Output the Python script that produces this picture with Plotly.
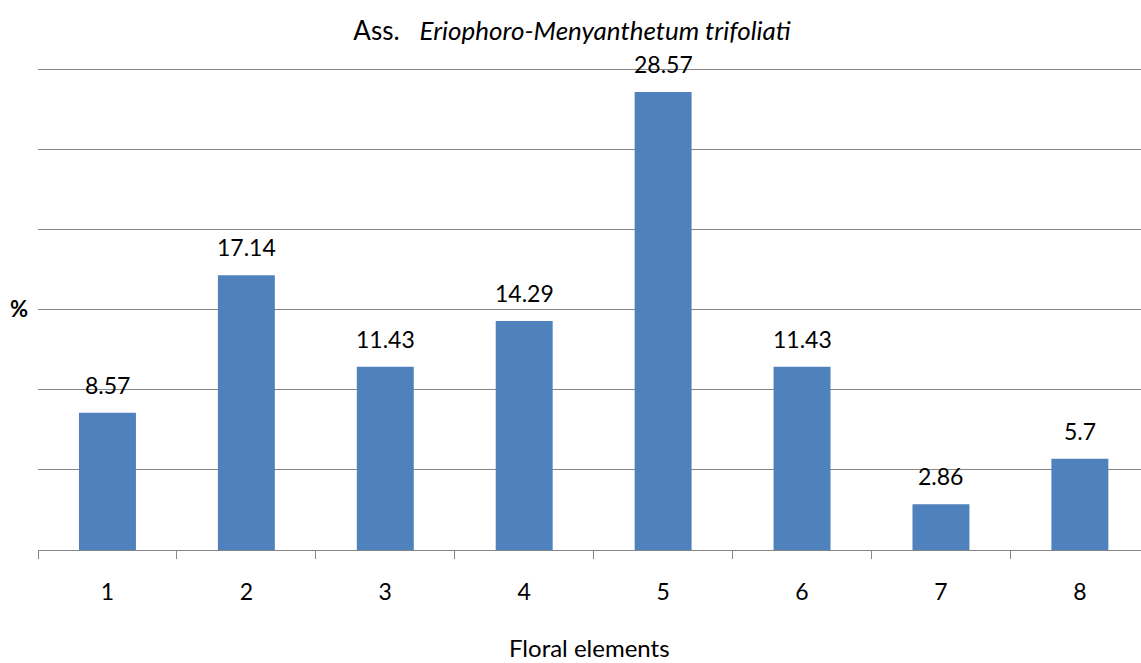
import plotly.graph_objects as go

categories = ["1", "2", "3", "4", "5", "6", "7", "8"]
values = [8.57, 17.14, 11.43, 14.29, 28.57, 11.43, 2.86, 5.7]
value_labels = ["8.57", "17.14", "11.43", "14.29", "28.57", "11.43", "2.86", "5.7"]

FONT = "Lato, 'Open Sans', sans-serif"

fig = go.Figure()
fig.add_trace(go.Bar(
    x=categories, y=values, width=0.41,
    marker=dict(color="#4F81BD", line=dict(width=0)),
    hoverinfo="x+y",
))

# data labels (category axis annotations use serial index positions)
for i, (v, t) in enumerate(zip(values, value_labels)):
    fig.add_annotation(x=i, y=v, text=t, showarrow=False, xref="x", yref="y",
                       yanchor="bottom", yshift=12,
                       font=dict(family=FONT, size=23, color="#000000"))

fig.add_annotation(xref="paper", yref="paper", x=0, y=0.5, xanchor="right", yanchor="middle",
                   xshift=-8, text="<b>%</b>", showarrow=False,
                   font=dict(family=FONT, size=22, color="#000000"))

fig.add_annotation(xref="paper", yref="paper", x=0.5, y=0, xanchor="center", yanchor="middle",
                   yshift=-97, text="Floral elements", showarrow=False,
                   font=dict(family=FONT, size=24, color="#000000"))

fig.update_layout(
    width=1141, height=663,
    margin=dict(l=38, r=0, t=66, b=113),
    paper_bgcolor="white", plot_bgcolor="white",
    showlegend=False,
    title=dict(text="Ass.&nbsp;&nbsp; <i>Eriophoro-Menyanthetum trifoliati</i>",
               x=572 / 1141, xanchor="center", y=1 - 31/663, yanchor="middle",
               font=dict(family=FONT, size=26, color="#000000")),
    font=dict(family=FONT, size=23, color="#000000"),
)

fig.update_xaxes(
    type="category", range=[-0.5, 7.44],
    showline=True, linecolor="#868686", linewidth=1,
    ticks="outside", ticklen=8, tickcolor="#868686", tickwidth=1,
    tickson="boundaries", ticklabelstandoff=21,
    showgrid=False, zeroline=False,
    tickfont=dict(family=FONT, size=23, color="#000000"),
)
fig.update_yaxes(
    range=[0, 30.2], tickvals=[5, 10, 15, 20, 25, 30], showticklabels=False,
    showgrid=True, gridcolor="#868686", gridwidth=1,
    zeroline=False, showline=False, ticks="",
)

fig.write_html("out.html")
